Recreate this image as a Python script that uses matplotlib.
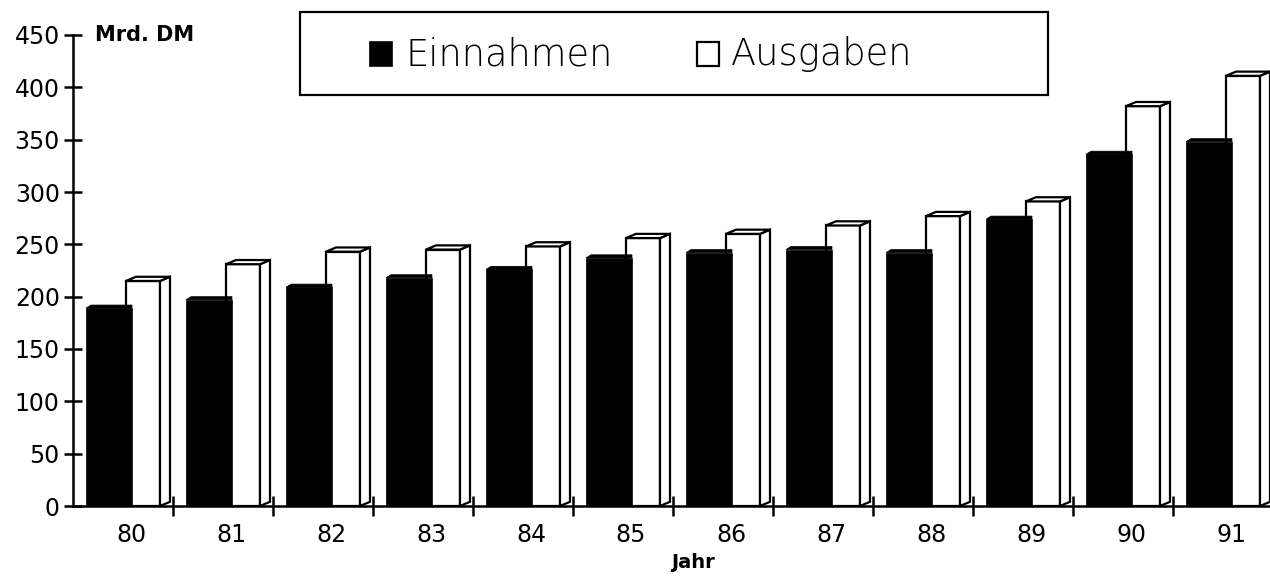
import numpy as np
import matplotlib
matplotlib.use("Agg")
import matplotlib.pyplot as plt
from matplotlib.patches import Polygon, Rectangle

# ---- data ----
years = ["80", "81", "82", "83", "84", "85", "86", "87", "88", "89", "90", "91"]
einnahmen = [189, 197, 209, 218, 226, 237, 242, 245, 242, 274, 336, 348]
ausgaben = [215, 231, 243, 245, 248, 256, 260, 268, 277, 291, 382, 411]
yticks = list(range(0, 451, 50))

plt.rcParams['font.family'] = ['DejaVu Sans']

FW, FH = 1270, 578
fig = plt.figure(figsize=(FW / 100, FH / 100), dpi=100)


def px(x, y):
    return x / FW, 1 - y / FH


ax = fig.add_axes([73 / FW, 72 / FH, 1200 / FW, 471 / FH])
ax.set_xlim(0, 12)
ax.set_ylim(0, 450)

idx = np.arange(len(years))
W0, W1 = 0.53, 0.87   # white bar front face (within category)
B0, B1 = 0.13, 0.59   # black bar front face
DX, DY = 0.10, 4      # 3D depth offsets
LW = 1.6

# white bars (Ausgaben), behind
ax.bar(idx + W0, ausgaben, width=W1 - W0, align='edge', color='white',
       edgecolor='black', linewidth=LW, zorder=2)
for i, h in zip(idx, ausgaben):
    x0, x1 = i + W0, i + W1
    ax.add_patch(Polygon([(x1, 0), (x1 + DX, DY), (x1 + DX, h + DY), (x1, h)],
                         closed=True, fc='white', ec='black', lw=LW, zorder=2))
    ax.add_patch(Polygon([(x0, h), (x0 + DX, h + DY), (x1 + DX, h + DY), (x1, h)],
                         closed=True, fc='white', ec='black', lw=LW, zorder=2))

# black bars (Einnahmen), in front
ax.bar(idx + B0, einnahmen, width=B1 - B0, align='edge', color='black',
       edgecolor='black', linewidth=0.5, zorder=3)
for i, h in zip(idx, einnahmen):
    x0, x1 = i + B0, i + B1
    ax.add_patch(Polygon([(x0, h), (x0 + 0.05, h + 3), (x1, h + 3), (x1, h)],
                         closed=True, fc='black', ec='black', lw=0.5, zorder=3))

# axes styling
for s in ['top', 'right']:
    ax.spines[s].set_visible(False)
for s in ['left', 'bottom']:
    ax.spines[s].set_linewidth(1.8)

ax.set_yticks(yticks)
ax.set_yticklabels([str(v) for v in yticks])
ax.tick_params(axis='y', direction='inout', length=13, width=1.8,
               labelsize=17, pad=3)

ax.set_xticks(np.arange(1, 12))
ax.set_xticklabels([])
ax.tick_params(axis='x', which='major', direction='inout', length=14,
               width=1.8)
ax.set_xticks(idx + 0.58, minor=True)
ax.set_xticklabels(years, minor=True)
ax.tick_params(axis='x', which='minor', length=0, labelsize=17, pad=12)

# texts
fig.text(*px(95, 35), "Mrd. DM", fontsize=15, fontweight='semibold',
         ha='left', va='center')
fig.text(*px(693, 563), "Jahr", fontsize=14, fontweight='semibold',
         ha='center', va='center')

# legend box (drawn manually)
lx0, ly0 = px(300, 95)
fig.patches.append(Rectangle((lx0, ly0), 748 / FW, 83 / FH, transform=fig.transFigure,
                             fc='white', ec='black', lw=1.6, zorder=5))
sx, sy = px(370, 66)
fig.patches.append(Rectangle((sx, sy), 22 / FW, 24 / FH, transform=fig.transFigure,
                             fc='black', ec='black', lw=1.2, zorder=6))
fig.text(*px(405, 54), "Einnahmen", fontsize=26.5, fontweight='light',
         ha='left', va='center', zorder=6)
sx, sy = px(697, 66)
fig.patches.append(Rectangle((sx, sy), 22 / FW, 24 / FH, transform=fig.transFigure,
                             fc='white', ec='black', lw=1.6, zorder=6))
fig.text(*px(731, 54), "Ausgaben", fontsize=26.5, fontweight='light',
         ha='left', va='center', zorder=6)

fig.savefig("out.png", dpi=100)
